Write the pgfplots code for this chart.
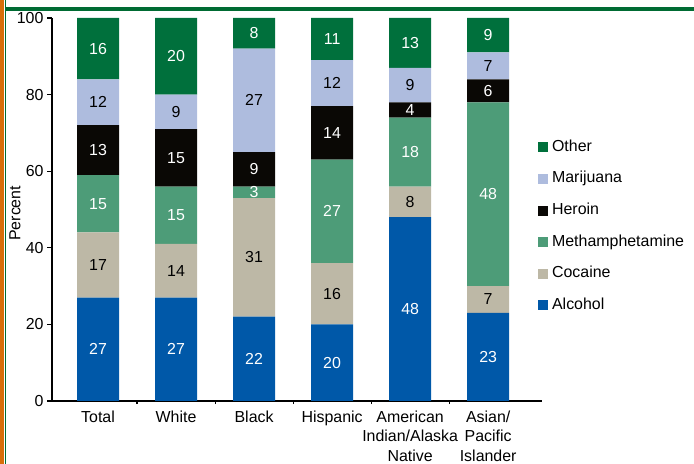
\documentclass[border=0pt]{standalone}
\usepackage{fontspec}
\setmainfont{Liberation Sans}
\usepackage{pgfplots}
\usepackage{pgfplotstable}
\pgfplotsset{compat=1.18}
\definecolor{calc}{RGB}{0,88,168}
\definecolor{ccoc}{RGB}{189,184,166}
\definecolor{cmeth}{RGB}{77,156,120}
\definecolor{cher}{RGB}{10,8,5}
\definecolor{cmar}{RGB}{174,188,222}
\definecolor{coth}{RGB}{0,112,60}
\definecolor{frameor}{RGB}{216,110,10}
\definecolor{framegr}{RGB}{0,107,51}
\pgfplotstableread{
x alc coc meth her mar oth
0 27 17 15 13 12 16
1 27 14 15 15 9 20
2 22 31 3 9 27 8
3 20 16 27 14 12 11
4 48 8 18 4 9 13
5 23 7 48 6 7 9
}\datatable
\newcommand{\fnt}{\fontsize{16}{20}\selectfont}
\begin{document}
\begin{tikzpicture}
\fill[frameor] (0,0) rectangle (4.3bp,464bp);
\fill[framegr] (5.2bp,0) rectangle (6.3bp,464bp);
\fill[framegr] (5.2bp,453bp) rectangle (694bp,457bp);
\begin{axis}[
  at={(52bp,63bp)}, anchor=south west,
  scale only axis, width=490bp, height=383bp,
  ybar stacked, bar width=0.538,
  xmin=-0.59, xmax=5.69, ymin=0, ymax=100,
  axis x line*=bottom, axis y line*=left,
  axis line style={line width=1.1bp, -},
  xtick={0,1,2,3,4,5},
  xticklabels={Total,White,Black,Hispanic,{American\\Indian/Alaska\\Native},{Asian/\\Pacific\\Islander}},
  xticklabel style={align=center, font=\fnt, yshift=-1bp},
  minor xtick={0.5,1.5,2.5,3.5,4.5},
  ytick={0,20,40,60,80,100},
  yticklabel style={font=\fnt},
  /pgf/number format/assume math mode=true,
  tick align=outside,
  major x tick style={draw=none},
  major tick length=5bp, minor tick length=3bp,
  tick style={line width=1.1bp, black},
  ylabel={Percent},
  ylabel style={font=\fnt, at={(axis description cs:-0.0755,0.49)}, anchor=center},
  reverse legend,
  legend cell align=left,
  legend style={draw=none, fill=none, inner sep=0pt, outer sep=0pt,
    at={(axis description cs:0.992,0.456)}, anchor=west,
    font=\fnt, row sep=17.6bp,
    nodes={inner sep=0pt, text height=11bp, text depth=3bp},
    /tikz/every odd column/.append style={column sep=4bp}},
  nodes near coords={\pgfmathprintnumber{\rawy}},
  every node near coord/.append style={font=\fnt, anchor=center},
  sq/.style={draw=none, fill=#1,
    legend image code/.code={\fill[#1] (0bp,-5bp) rectangle (10bp,5bp);}},
]
\addplot[sq=calc, visualization depends on={\thisrow{alc}\as\rawy}, every node near coord/.append style={white}] table[x=x,y=alc]{\datatable};
\addlegendentry{Alcohol}
\addplot[sq=ccoc, visualization depends on={\thisrow{coc}\as\rawy}, every node near coord/.append style={black}] table[x=x,y=coc]{\datatable};
\addlegendentry{Cocaine}
\addplot[sq=cmeth, visualization depends on={\thisrow{meth}\as\rawy}, every node near coord/.append style={white}] table[x=x,y=meth]{\datatable};
\addlegendentry{Methamphetamine}
\addplot[sq=cher, visualization depends on={\thisrow{her}\as\rawy}, every node near coord/.append style={white}] table[x=x,y=her]{\datatable};
\addlegendentry{Heroin}
\addplot[sq=cmar, visualization depends on={\thisrow{mar}\as\rawy}, every node near coord/.append style={black}] table[x=x,y=mar]{\datatable};
\addlegendentry{Marijuana}
\addplot[sq=coth, visualization depends on={\thisrow{oth}\as\rawy}, every node near coord/.append style={white}] table[x=x,y=oth]{\datatable};
\addlegendentry{Other}
\end{axis}
\pgfresetboundingbox
\path[use as bounding box] (0,0) rectangle (694bp,464bp);
\end{tikzpicture}
\end{document}
